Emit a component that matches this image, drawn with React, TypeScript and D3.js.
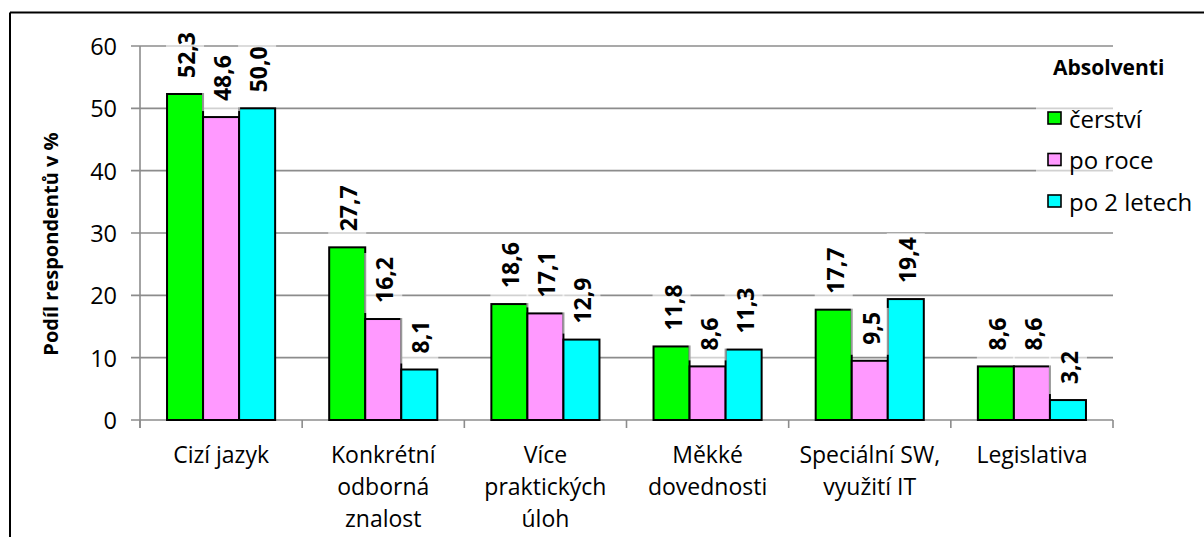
import React, { useEffect, useRef } from 'react'
import * as d3 from 'd3'

// categories (multi-line labels)
const categories = [
  ['Cizí jazyk'],
  ['Konkrétní', 'odborná', 'znalost'],
  ['Více', 'praktických', 'úloh'],
  ['Měkké', 'dovednosti'],
  ['Speciální SW,', 'využití IT'],
  ['Legislativa'],
]

const seriesNames = ['čerství', 'po roce', 'po 2 letech']
const cerstvi = [52.3, 27.7, 18.6, 11.8, 17.7, 8.6]
const poRoce = [48.6, 16.2, 17.1, 8.6, 9.5, 8.6]
const po2Letech = [50.0, 8.1, 12.9, 11.3, 19.4, 3.2]
const yTicks = [0, 10, 20, 30, 40, 50, 60]
const colors = ['#00ff00', '#ff99ff', '#00ffff']

const FONT = '"Open Sans", "Noto Sans", sans-serif'
const GRID = '#8c8c8c'

export default function App() {
  const ref = useRef<SVGSVGElement>(null)

  useEffect(() => {
    const svg = d3.select(ref.current)
    svg.selectAll('*').remove()

    const left = 140, right = 1113, top = 46, bottom = 420
    const values = [cerstvi, poRoce, po2Letech]

    const x = d3.scaleBand<number>()
      .domain(categories.map((_, i) => i))
      .range([left, right])
      .paddingInner(1 / 3)
      .paddingOuter(1 / 6)
    const xs = d3.scaleBand<number>()
      .domain(seriesNames.map((_, i) => i))
      .range([0, x.bandwidth()])
    const y = d3.scaleLinear().domain([0, 60]).range([bottom, top])

    // frame
    svg.append('line').attr('x1', 10).attr('x2', 1204).attr('y1', 12.5).attr('y2', 12.5)
      .attr('stroke', '#000').attr('stroke-width', 2)
    svg.append('line').attr('x1', 10).attr('x2', 10).attr('y1', 12.5).attr('y2', 537)
      .attr('stroke', '#000').attr('stroke-width', 2)

    // gridlines + y ticks
    const g = svg.append('g')
    g.selectAll('.grid').data(yTicks).enter().append('line')
      .attr('x1', left - 9).attr('x2', right)
      .attr('y1', d => y(d)).attr('y2', d => y(d))
      .attr('stroke', GRID).attr('stroke-width', 1.6)
    g.selectAll('.ytl').data(yTicks).enter().append('text')
      .attr('x', 117).attr('y', d => y(d))
      .attr('text-anchor', 'end').attr('dominant-baseline', 'central')
      .style('font-family', FONT).style('font-size', '23.5px').attr('fill', '#000')
      .text(d => String(d))

    // axes
    g.append('line').attr('x1', left).attr('x2', left).attr('y1', top).attr('y2', bottom + 8)
      .attr('stroke', GRID).attr('stroke-width', 1.6)
    const step = x.step()
    g.selectAll('.xt').data(d3.range(categories.length + 1)).enter().append('line')
      .attr('x1', i => left + i * step).attr('x2', i => left + i * step)
      .attr('y1', bottom).attr('y2', bottom + 8)
      .attr('stroke', GRID).attr('stroke-width', 1.6)

    // legend backdrop softening gridlines
    svg.append('rect').attr('x', 1036).attr('y', 96).attr('width', right - 1036).attr('height', 118)
      .attr('fill', '#fff').attr('opacity', 0.6)

    // bars
    const groups = svg.selectAll('.grp').data(categories).enter().append('g')
      .attr('transform', (_, i) => `translate(${x(i)},0)`)
    values.forEach((vals, s) => {
      groups.append('rect')
        .attr('x', xs(s)!)
        .attr('y', (_, i) => y(vals[i]))
        .attr('width', xs.bandwidth())
        .attr('height', (_, i) => bottom - y(vals[i]))
        .attr('fill', colors[s])
        .attr('stroke', '#000').attr('stroke-width', 2)
    })

    // data labels
    values.forEach((vals, s) => {
      groups.each(function (_, i) {
        const cx = (x(i) ?? 0) + xs(s)! + xs.bandwidth() / 2
        const barTop = y(vals[i])
        const fmt = d3.format('.1f')(vals[i]).replace('.', ',')
        const grp = svg.append('g')
        const bg = grp.append('rect')
        const t = grp.append('text')
          .attr('transform', `translate(${cx + 1},${barTop - 16}) rotate(-90)`)
          .attr('dominant-baseline', 'central')
          .style('font-family', FONT).style('font-size', '23px').style('font-weight', 'bold')
          .attr('fill', '#000').text(fmt)
        const len = (t.node() as SVGTextElement).getComputedTextLength()
        bg.attr('x', cx - 19).attr('width', 38)
          .attr('y', barTop - 16 - len - 4).attr('height', len + 14)
          .attr('fill', '#fff').attr('opacity', 0.6)
      })
    })

    // category labels
    groups.each(function (lines, i) {
      const cx = (x(i) ?? 0) + x.bandwidth() / 2
      const t = svg.append('text')
        .attr('text-anchor', 'middle')
        .style('font-family', FONT).style('font-size', '23px').attr('fill', '#000')
      lines.forEach((ln, k) => {
        t.append('tspan').attr('x', cx).attr('y', 463 + k * 32).text(ln)
      })
    })

    // y title
    svg.append('text')
      .attr('transform', 'translate(50,244) rotate(-90)')
      .attr('text-anchor', 'middle').attr('dominant-baseline', 'central')
      .style('font-family', FONT).style('font-size', '20px').style('font-weight', 'bold')
      .text('Podíl respondentů v %')

    // legend
    svg.append('text').attr('x', 1053).attr('y', 67)
      .attr('dominant-baseline', 'central')
      .style('font-family', FONT).style('font-size', '21px').style('font-weight', 'bold')
      .text('Absolventi')
    const leg = svg.selectAll('.leg').data(seriesNames).enter().append('g')
      .attr('transform', (_, i) => `translate(1048,${118 + i * 41.5})`)
    leg.append('rect').attr('x', 0).attr('y', -6).attr('width', 13).attr('height', 12)
      .attr('fill', (_, i) => colors[i]).attr('stroke', '#000').attr('stroke-width', 1.6)
    leg.append('text').attr('x', 21).attr('y', 0).attr('dominant-baseline', 'central')
      .style('font-family', FONT).style('font-size', '24px')
      .text(d => d)
  }, [])

  return (
    <div style={{ position: 'fixed', left: 0, top: 0, width: 1204, height: 537, background: '#fff' }}>
      <svg ref={ref} width={1204} height={537} style={{ display: 'block' }} />
    </div>
  )
}
